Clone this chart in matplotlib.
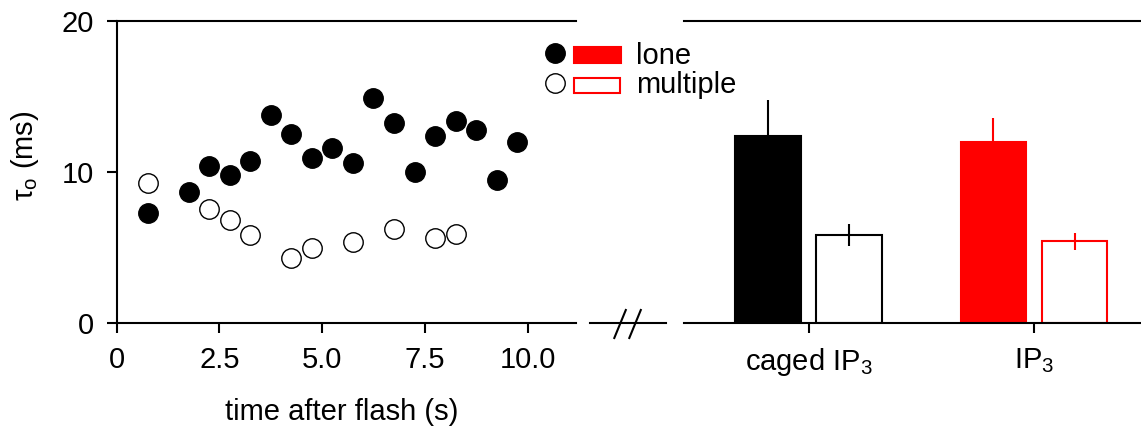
import matplotlib
matplotlib.use('Agg')
import matplotlib.pyplot as plt
from matplotlib.lines import Line2D
from matplotlib.patches import Rectangle

FS = 21
plt.rcParams['font.family'] = ['Liberation Sans', 'DejaVu Sans']
plt.rcParams['font.size'] = FS
plt.rcParams['mathtext.fontset'] = 'custom'
plt.rcParams['mathtext.rm'] = 'Liberation Sans'
plt.rcParams['mathtext.it'] = 'Liberation Sans:italic'
plt.rcParams['mathtext.bf'] = 'Liberation Sans:bold'

# left panel: tau_o versus time after flash
lone_t = [0.75, 1.75, 2.25, 2.75, 3.25, 3.75, 4.25, 4.75, 5.25,
          5.75, 6.25, 6.75, 7.25, 7.75, 8.25, 8.75, 9.25, 9.75]
lone_tau = [7.3, 8.7, 10.4, 9.8, 10.75, 13.8, 12.5, 10.9, 11.6,
            10.6, 14.9, 13.25, 10.0, 12.4, 13.4, 12.8, 9.5, 12.0]
multi_t = [0.75, 2.25, 2.75, 3.25, 4.25, 4.75, 5.75, 6.75, 7.75, 8.25]
multi_tau = [9.3, 7.55, 6.8, 5.8, 4.3, 5.0, 5.35, 6.25, 5.65, 5.9]

# right panel: means +/- error
groups = ['caged IP$_3$', 'IP$_3$']
bar_lone = [12.4, 12.0]
bar_lone_err = [2.4, 1.6]
bar_multi = [5.8, 5.4]
bar_multi_err = [0.73, 0.55]
group_colors = ['black', 'red']

W, H = 1141, 432
fig = plt.figure(figsize=(W / 100, H / 100), dpi=100)


def fx(p):
    return p / W


def fy(p):
    return 1 - p / H


LW = 1.5
ax1 = fig.add_axes([fx(116.7), fy(323), fx(576 - 116.7), 302 / H])
ax2 = fig.add_axes([fx(684), fy(323), fx(W - 684), 302 / H])

ax1.plot(lone_t, lone_tau, 'o', ms=14, mfc='black', mec='black', mew=1, clip_on=False)
ax1.plot(multi_t, multi_tau, 'o', ms=14, mfc='white', mec='black', mew=1, clip_on=False)
ax1.set_xlim(0, 11.18)
ax1.set_ylim(0, 20)
ax1.set_xticks([0, 2.5, 5, 7.5, 10])
ax1.set_xticklabels(['0', '2.5', '5.0', '7.5', '10.0'])
ax1.set_yticks([0, 10, 20])
ax1.spines['right'].set_visible(False)
ax1.set_xlabel('time after flash (s)', va='top')
ax1.xaxis.set_label_coords(0.49, -0.25)
ax1.set_ylabel('τ$_\\mathrm{o}$ (ms)')
ax1.yaxis.set_label_coords(-0.165, 0.553)

off, bw = 0.18, 0.29
for i, c in enumerate(group_colors):
    ax2.bar(i - off, bar_lone[i], bw, color=c, edgecolor=c, lw=LW)
    ax2.errorbar(i - off, bar_lone[i], yerr=[[0], [bar_lone_err[i]]], color=c, lw=LW, capsize=0)
    ax2.bar(i + off, bar_multi[i], bw, facecolor='white', edgecolor=c, lw=LW)
    ax2.errorbar(i + off, bar_multi[i], yerr=bar_multi_err[i], color=c, lw=LW, capsize=0)
ax2.set_xlim(-0.552, 1.474)
ax2.set_ylim(0, 20)
ax2.set_xticks(range(len(groups)))
ax2.set_xticklabels(groups)
ax2.set_yticks([])
ax2.spines['left'].set_visible(False)
ax2.spines['right'].set_visible(False)

for ax in (ax1, ax2):
    for s in ax.spines.values():
        s.set_linewidth(LW)
    ax.tick_params(direction='out', length=7.5, width=LW, pad=9, labelsize=FS)

# axis break marks
fig.add_artist(Line2D([fx(590), fx(666)], [fy(323), fy(323)], color='black', lw=LW))
for x0 in (614.3, 629.3):
    fig.add_artist(Line2D([fx(x0), fx(x0 + 11.5)], [fy(338), fy(310)], color='black', lw=LW))

# legend
fig.add_artist(Line2D([fx(555)], [fy(53)], marker='o', ms=14, mfc='black', mec='black', mew=1))
fig.add_artist(Line2D([fx(555)], [fy(83)], marker='o', ms=14, mfc='white', mec='black', mew=1))
fig.add_artist(Rectangle((fx(574), fy(63)), fx(47), 16 / H, facecolor='red', edgecolor='red', lw=LW))
fig.add_artist(Rectangle((fx(574.5), fy(92.5)), fx(46), 15 / H, facecolor='white', edgecolor='red', lw=LW))
fig.text(fx(636), fy(64), 'lone', va='baseline', ha='left', fontsize=FS)
fig.text(fx(636), fy(93), 'multiple', va='baseline', ha='left', fontsize=FS)

fig.savefig('out.png', dpi=100)
